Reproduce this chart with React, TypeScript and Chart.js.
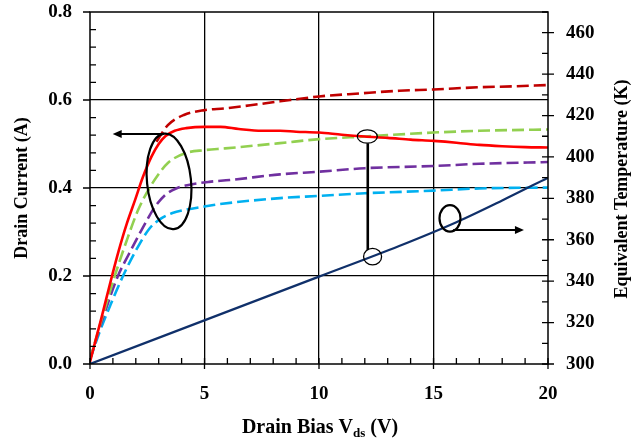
import React, { useEffect, useRef } from "react";
import { Chart, registerables } from "chart.js";

Chart.register(...registerables);

// ---- data ----
const redX = [0, 0.5, 0.96, 1.24, 1.6, 1.97, 2.31, 2.69, 3.0, 3.3, 3.7, 4.2, 5, 5.7, 6.5, 7.5, 8.3, 9, 10, 11, 12, 13, 14, 15, 16, 17, 18, 19, 20];
const redY = [0.005, 0.105, 0.2, 0.255, 0.318, 0.373, 0.425, 0.472, 0.5, 0.518, 0.53, 0.536, 0.539, 0.539, 0.534, 0.53, 0.53, 0.528, 0.526, 0.521, 0.517, 0.514, 0.51, 0.507, 0.503, 0.498, 0.495, 0.493, 0.492];

const darkRedX = [2.9, 3.4, 4.1, 5, 5.9, 7, 8.3, 10, 11.8, 13.5, 15, 17, 18.5, 20];
const darkRedY = [0.505, 0.543, 0.566, 0.577, 0.581, 0.588, 0.597, 0.608, 0.615, 0.621, 0.624, 0.629, 0.631, 0.634];

const greenX = [0, 0.5, 1.08, 1.66, 2.1, 2.6, 3.0, 3.4, 4.15, 5, 5.9, 8.3, 10, 12, 15, 17, 20];
const greenY = [0.01, 0.1, 0.2, 0.289, 0.35, 0.4, 0.432, 0.457, 0.479, 0.486, 0.49, 0.502, 0.511, 0.517, 0.526, 0.53, 0.533];

const purpleX = [0, 0.6, 1.22, 1.7, 2.1, 2.5, 2.82, 3.26, 3.76, 4.3, 5.2, 6.1, 8.3, 10, 12, 15, 17, 20];
const purpleY = [0.01, 0.11, 0.2, 0.25, 0.29, 0.328, 0.356, 0.383, 0.399, 0.407, 0.414, 0.418, 0.431, 0.437, 0.445, 0.45, 0.455, 0.459];

const blueX = [0, 0.4, 0.9, 1.44, 2.1, 2.6, 3.11, 3.6, 4.13, 5.0, 5.6, 8.3, 10, 12, 15, 17, 20];
const blueY = [0.01, 0.07, 0.135, 0.2, 0.267, 0.308, 0.331, 0.343, 0.35, 0.358, 0.363, 0.377, 0.382, 0.388, 0.394, 0.399, 0.401];

const tempX = [0, 10, 13.5, 16, 18, 20];
const tempY = [300, 342.2, 357, 368.5, 379, 390];

const xTickLabels = [0, 5, 10, 15, 20];
const leftTickLabels = [0, 0.2, 0.4, 0.6, 0.8];
const rightTickLabels = [300, 320, 340, 360, 380, 400, 420, 440, 460];

const leftTitle = "Drain Current (A)";
const rightTitle = "Equivalent Temperature (K)";
const bottomTitleMain = "Drain Bias V";
const bottomTitleSub = "ds";
const bottomTitleEnd = " (V)";

const FONT = '"Liberation Serif", "Times New Roman", serif';

const pts = (xs: number[], ys: number[]) => xs.map((x, i) => ({ x, y: ys[i] }));
const near = (v: number, list: number[]) => list.some((l) => Math.abs(l - v) < 1e-6);

function ellipse(ctx: CanvasRenderingContext2D, cx: number, cy: number, rx: number, ry: number, rot: number, lw: number) {
  ctx.beginPath();
  ctx.lineWidth = lw;
  ctx.ellipse(cx, cy, rx, ry, rot, 0, Math.PI * 2);
  ctx.stroke();
}

function arrow(ctx: CanvasRenderingContext2D, x1: number, y: number, x2: number) {
  const dir = Math.sign(x2 - x1);
  ctx.beginPath();
  ctx.lineWidth = 2;
  ctx.moveTo(x1, y);
  ctx.lineTo(x2 - dir * 6, y);
  ctx.stroke();
  ctx.beginPath();
  ctx.moveTo(x2, y);
  ctx.lineTo(x2 - dir * 9, y - 4);
  ctx.lineTo(x2 - dir * 9, y + 4);
  ctx.closePath();
  ctx.fill();
}

const decorPlugin = {
  id: "decor",
  afterDraw(chart: any) {
    const { ctx, chartArea: a, scales } = chart;
    const xs = scales.x, ys = scales.y, y1 = scales.y1;
    ctx.save();
    ctx.strokeStyle = "#000";
    ctx.fillStyle = "#000";
    // frame
    ctx.lineWidth = 1.5;
    ctx.strokeRect(a.left, a.top, a.right - a.left, a.bottom - a.top);
    // ticks
    ctx.lineWidth = 1.3;
    ctx.beginPath();
    ys.ticks.forEach((t: any) => {
      const p = ys.getPixelForValue(t.value);
      if (near(t.value, leftTickLabels)) { ctx.moveTo(a.left - 7, p); ctx.lineTo(a.left, p); }
      else { ctx.moveTo(a.left, p); ctx.lineTo(a.left + 6, p); }
    });
    y1.ticks.forEach((t: any) => {
      const p = y1.getPixelForValue(t.value);
      if (near(t.value, rightTickLabels)) { ctx.moveTo(a.right - 6, p); ctx.lineTo(a.right + 6, p); }
      else { ctx.moveTo(a.right - 6, p); ctx.lineTo(a.right, p); }
    });
    xs.ticks.forEach((t: any) => {
      const p = xs.getPixelForValue(t.value);
      if (near(t.value, xTickLabels)) { ctx.moveTo(p, a.bottom - 6); ctx.lineTo(p, a.bottom + 5); }
      else { ctx.moveTo(p, a.bottom - 6); ctx.lineTo(p, a.bottom); }
    });
    ctx.stroke();

    // titles
    ctx.font = `bold 18px ${FONT}`;
    ctx.textAlign = "center";
    ctx.textBaseline = "middle";
    ctx.save();
    ctx.translate(22, 188);
    ctx.rotate(-Math.PI / 2);
    ctx.fillText(leftTitle, 0, 0);
    ctx.restore();
    ctx.save();
    ctx.translate(622, 189);
    ctx.rotate(-Math.PI / 2);
    ctx.fillText(rightTitle, 0, 0);
    ctx.restore();

    ctx.textAlign = "left";
    ctx.textBaseline = "alphabetic";
    const mainFont = `bold 20px ${FONT}`;
    const subFont = `bold 13px ${FONT}`;
    ctx.font = mainFont;
    const w1 = ctx.measureText(bottomTitleMain).width;
    const w3 = ctx.measureText(bottomTitleEnd).width;
    ctx.font = subFont;
    const w2 = ctx.measureText(bottomTitleSub).width;
    const x0 = 320 - (w1 + w2 + w3) / 2;
    const base = 433;
    ctx.font = mainFont;
    ctx.fillText(bottomTitleMain, x0, base);
    ctx.font = subFont;
    ctx.fillText(bottomTitleSub, x0 + w1, base + 4);
    ctx.font = mainFont;
    ctx.fillText(bottomTitleEnd, x0 + w1 + w2, base);

    // annotations (positions in data units)
    const px = (v: number) => xs.getPixelForValue(v);
    const py = (v: number) => ys.getPixelForValue(v);
    ellipse(ctx, px(3.45), py(0.415), 22, 48, -0.1, 2.2);
    arrow(ctx, px(3.2), py(0.523), px(0.99));
    ellipse(ctx, px(12.11), py(0.517), 10, 6.7, 0, 1.3);
    ctx.beginPath();
    ctx.lineWidth = 2.6;
    ctx.moveTo(px(12.13), py(0.5016));
    ctx.lineTo(px(12.13), py(0.259));
    ctx.stroke();
    ellipse(ctx, px(12.34), py(0.244), 9, 8.3, 0, 1.3);
    ellipse(ctx, px(15.72), py(0.331), 10.5, 13.2, 0, 2.2);
    arrow(ctx, px(15.86), py(0.3045), px(18.95));
    ctx.restore();
  },
};

const noPadV = (w: number) => (s: any) => { s.width = w; s.paddingTop = 0; s.paddingBottom = 0; };

export default function App() {
  const ref = useRef<HTMLCanvasElement>(null);
  useEffect(() => {
    if (!ref.current) return;
    const dash = [12, 5];
    const common = { pointRadius: 0, borderWidth: 2.6, fill: false, cubicInterpolationMode: "monotone" as const };
    const tickFont = { family: FONT, size: 19, weight: "bold" as const };
    const chart = new Chart(ref.current, {
      type: "line",
      data: {
        datasets: [
          { ...common, label: "T", data: pts(tempX, tempY), borderColor: "#10306A", borderWidth: 2.2, yAxisID: "y1" },
          { ...common, label: "red", data: pts(redX, redY), borderColor: "#FF0000", yAxisID: "y" },
          { ...common, label: "darkred", data: pts(darkRedX, darkRedY), borderColor: "#C00000", borderDash: dash, yAxisID: "y" },
          { ...common, label: "green", data: pts(greenX, greenY), borderColor: "#92D050", borderDash: dash, yAxisID: "y" },
          { ...common, label: "purple", data: pts(purpleX, purpleY), borderColor: "#7030A0", borderDash: dash, yAxisID: "y" },
          { ...common, label: "blue", data: pts(blueX, blueY), borderColor: "#00B0F0", borderDash: dash, yAxisID: "y" },
        ],
      },
      options: {
        animation: false,
        responsive: false,
        devicePixelRatio: 1,
        layout: { padding: { top: 12, left: 0, right: 0, bottom: 0 } },
        plugins: { legend: { display: false }, tooltip: { enabled: false } },
        scales: {
          x: {
            type: "linear",
            min: 0,
            max: 20,
            afterFit: (s: any) => { s.height = 76; s.paddingLeft = 0; s.paddingRight = 0; },
            border: { display: false },
            grid: {
              drawTicks: false,
              lineWidth: 1.3,
              color: (c: any) => (c.tick && near(c.tick.value, [5, 10, 15]) ? "#000" : "rgba(0,0,0,0)"),
            },
            ticks: {
              stepSize: 1,
              autoSkip: false,
              maxRotation: 0,
              padding: 19,
              color: "#000",
              font: tickFont,
              callback: (v: any) => (near(Number(v), xTickLabels) ? String(Math.round(Number(v))) : ""),
            },
          },
          y: {
            type: "linear",
            position: "left",
            min: 0,
            max: 0.8,
            afterFit: noPadV(90),
            border: { display: false },
            grid: {
              drawTicks: false,
              lineWidth: 1.3,
              color: (c: any) => (c.tick && near(c.tick.value, [0.2, 0.4, 0.6]) ? "#000" : "rgba(0,0,0,0)"),
            },
            ticks: {
              stepSize: 0.04,
              autoSkip: false,
              padding: 18,
              color: "#000",
              font: tickFont,
              callback: (v: any) => (near(Number(v), leftTickLabels) ? Number(v).toFixed(1) : ""),
            },
          },
          y1: {
            type: "linear",
            position: "right",
            min: 300,
            max: 470,
            afterFit: noPadV(86),
            border: { display: false },
            grid: { drawTicks: false, drawOnChartArea: false },
            ticks: {
              stepSize: 10,
              autoSkip: false,
              padding: 18,
              color: "#000",
              font: tickFont,
              callback: (v: any) => (near(Number(v), rightTickLabels) ? String(Math.round(Number(v))) : ""),
            },
          },
        },
      },
      plugins: [decorPlugin],
    });
    return () => chart.destroy();
  }, []);
  return (
    <div style={{ position: "absolute", left: 0, top: 0, width: 634, height: 440, background: "#fff" }}>
      <canvas ref={ref} width={634} height={440} style={{ display: "block", width: 634, height: 440 }} />
    </div>
  );
}
